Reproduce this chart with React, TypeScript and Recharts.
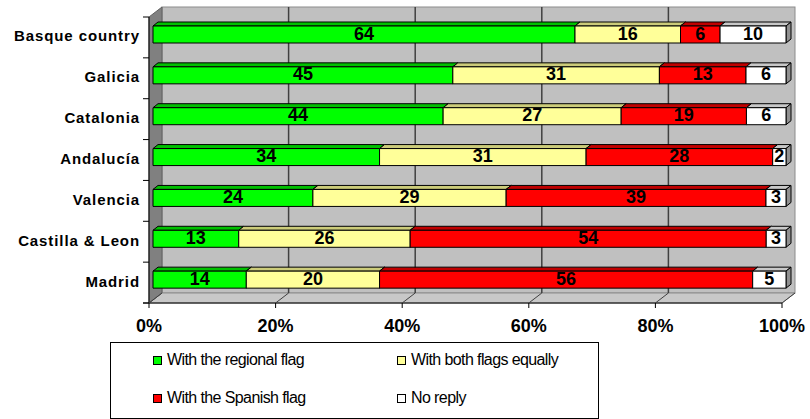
import React from 'react';
import { BarChart, Bar, XAxis, YAxis, CartesianGrid, LabelList } from 'recharts';

const REGIONS = ['Basque country', 'Galicia', 'Catalonia', 'Andalucía', 'Valencia', 'Castilla & Leon', 'Madrid'];
const REGIONAL = [64, 45, 44, 34, 24, 13, 14];
const BOTH = [16, 31, 27, 31, 29, 26, 20];
const SPANISH = [6, 13, 19, 28, 39, 54, 56];
const NO_REPLY = [10, 6, 6, 2, 3, 3, 5];
const X_TICKS = [0, 0.2, 0.4, 0.6, 0.8, 1];

interface SeriesDef {
  key: string;
  name: string;
  fill: string;
  top: string;
  side: string;
}

const SERIES: SeriesDef[] = [
  { key: 'regional', name: 'With the regional flag', fill: '#00FF00', top: '#00C000', side: '#009900' },
  { key: 'both', name: 'With both flags equally', fill: '#FFFF99', top: '#CCCC7A', side: '#99995C' },
  { key: 'spanish', name: 'With the Spanish flag', fill: '#FF0000', top: '#C00000', side: '#990000' },
  { key: 'noReply', name: 'No reply', fill: '#FFFFFF', top: '#C8C8C8', side: '#909090' },
];

const data = REGIONS.map((region, i) => ({
  region,
  regional: REGIONAL[i],
  both: BOTH[i],
  spanish: SPANISH[i],
  noReply: NO_REPLY[i],
}));

// chart frame
const W = 810;
const H = 419;
const PLOT_LEFT = 149;
const PLOT_RIGHT = 782;
const PLOT_TOP = 17;
const PLOT_BOTTOM = 303;
const X_AXIS_H = 30;
const BAND = (PLOT_BOTTOM - PLOT_TOP) / REGIONS.length;

// 3d depth of the walls, bar offset into the box, bar depth
const DX = 13;
const DY = 10;
const BX = 4;
const BY = -3;
const DW = 5;
const DH = 4;

const FONT = '"Liberation Sans", Arial, sans-serif';

function Box3D(props: any) {
  const { x, y, width, height, fill, top, side } = props;
  if (width == null || height == null) return null;
  const fx = x + BX;
  const fy = y + BY;
  return (
    <g stroke="#000" strokeWidth={1} strokeLinejoin="round">
      <polygon points={`${fx},${fy} ${fx + DW},${fy - DH} ${fx + width + DW},${fy - DH} ${fx + width},${fy}`} fill={top} />
      <polygon
        points={`${fx + width},${fy} ${fx + width + DW},${fy - DH} ${fx + width + DW},${fy + height - DH} ${fx + width},${fy + height}`}
        fill={side}
      />
      <rect x={fx} y={fy} width={width} height={height} fill={fill} />
    </g>
  );
}

function ValueLabel(props: any) {
  const vb = props.viewBox || props;
  const { x, y, width, height } = vb;
  return (
    <text
      x={x + width / 2 + BX}
      y={y + height / 2 + BY - 1}
      textAnchor="middle"
      dominantBaseline="central"
      fontFamily={FONT}
      fontWeight="bold"
      fontSize={18}
      fill="#000"
    >
      {props.value}
    </text>
  );
}

function RegionTick(props: any) {
  const { y, payload, index } = props;
  const top = y - BAND / 2;
  return (
    <g>
      <line x1={PLOT_LEFT - 6} x2={PLOT_LEFT} y1={top} y2={top} stroke="#000" />
      {index === REGIONS.length - 1 && (
        <line x1={PLOT_LEFT - 6} x2={PLOT_LEFT} y1={top + BAND} y2={top + BAND} stroke="#000" />
      )}
      <text
        x={140}
        y={y - 1.5}
        textAnchor="end"
        dominantBaseline="central"
        fontFamily={FONT}
        fontWeight="bold"
        fontSize={15}
        letterSpacing={0.9}
        fill="#000"
      >
        {payload.value}
      </text>
    </g>
  );
}

function PercentTick(props: any) {
  const { x, payload } = props;
  return (
    <g>
      <line x1={x} y1={PLOT_BOTTOM} x2={x + DX} y2={PLOT_BOTTOM - DY} stroke="#404040" />
      <line x1={x} y1={PLOT_BOTTOM} x2={x} y2={PLOT_BOTTOM + 5} stroke="#000" />
      <text
        x={x}
        y={PLOT_BOTTOM + 23}
        textAnchor="middle"
        dominantBaseline="central"
        fontFamily={FONT}
        fontWeight="bold"
        fontSize={18}
        fill="#000"
      >
        {`${Math.round(payload.value * 100)}%`}
      </text>
    </g>
  );
}

// walls and floor behind the bars
function Frame() {
  return (
    <svg width={W} height={H} style={{ position: 'absolute', left: 0, top: 0 }}>
      <rect
        x={PLOT_LEFT + DX}
        y={PLOT_TOP - DY}
        width={PLOT_RIGHT - PLOT_LEFT}
        height={PLOT_BOTTOM - PLOT_TOP}
        fill="#C0C0C0"
        stroke="#8C8C8C"
      />
      <polygon
        points={`${PLOT_LEFT},${PLOT_BOTTOM} ${PLOT_LEFT + DX},${PLOT_BOTTOM - DY} ${PLOT_RIGHT + DX},${PLOT_BOTTOM - DY} ${PLOT_RIGHT},${PLOT_BOTTOM}`}
        fill="#C8C8C8"
        stroke="#8C8C8C"
      />
      <polygon
        points={`${PLOT_LEFT},${PLOT_TOP} ${PLOT_LEFT + DX},${PLOT_TOP - DY} ${PLOT_LEFT + DX},${PLOT_BOTTOM - DY} ${PLOT_LEFT},${PLOT_BOTTOM}`}
        fill="#808080"
        stroke="#606060"
      />
      <line x1={PLOT_LEFT} y1={PLOT_TOP} x2={PLOT_LEFT} y2={PLOT_BOTTOM} stroke="#000" />
      <line x1={PLOT_LEFT - 6} y1={PLOT_BOTTOM} x2={PLOT_RIGHT} y2={PLOT_BOTTOM} stroke="#000" />
    </svg>
  );
}

function LegendBox() {
  const cols = [166, 410];
  const rows = [359, 397];
  return (
    <div
      style={{
        position: 'absolute',
        left: 110,
        top: 342,
        width: 487,
        height: 75,
        border: '1px solid #000',
        background: '#fff',
      }}
    >
      {SERIES.map((s, i) => {
        const left = cols[i % 2] - 110;
        const top = rows[Math.floor(i / 2)] - 342;
        return (
          <div
            key={s.key}
            style={{
              position: 'absolute',
              left: left - 14,
              top: top - 10,
              height: 20,
              display: 'flex',
              alignItems: 'center',
              whiteSpace: 'nowrap',
              fontFamily: FONT,
              fontSize: 16,
              letterSpacing: -0.6,
              color: '#000',
            }}
          >
            <span
              style={{
                display: 'inline-block',
                width: 7,
                height: 7,
                border: '1px solid #000',
                background: s.fill,
                marginRight: 5,
              }}
            />
            {s.name}
          </div>
        );
      })}
    </div>
  );
}

export default function App() {
  const plotW = PLOT_RIGHT - PLOT_LEFT;
  return (
    <div style={{ position: 'absolute', left: 0, top: 0, width: W, height: H, background: '#fff' }}>
      <Frame />
      <div style={{ position: 'absolute', left: 0, top: 0 }}>
        <BarChart
          width={W}
          height={H}
          data={data}
          layout="vertical"
          stackOffset="expand"
          barSize={17}
          margin={{ top: PLOT_TOP, right: W - PLOT_RIGHT, left: 0, bottom: H - PLOT_BOTTOM - X_AXIS_H }}
        >
          <CartesianGrid
            horizontal={false}
            stroke="#404040"
            strokeWidth={1.5}
            y={PLOT_TOP - DY}
            height={PLOT_BOTTOM - PLOT_TOP}
            verticalCoordinatesGenerator={({ xAxis }: any) =>
              X_TICKS.slice(1, -1).map((t) =>
                (xAxis && typeof xAxis.scale === 'function' ? xAxis.scale(t) : PLOT_LEFT + t * plotW) + DX
              )
            }
          />
          <XAxis
            type="number"
            domain={[0, 1]}
            ticks={X_TICKS}
            height={X_AXIS_H}
            axisLine={false}
            tickLine={false}
            tick={<PercentTick />}
            interval={0}
          />
          <YAxis
            type="category"
            dataKey="region"
            width={PLOT_LEFT}
            axisLine={false}
            tickLine={false}
            tick={<RegionTick />}
            interval={0}
          />
          {SERIES.map((s) => (
            <Bar
              key={s.key}
              dataKey={s.key}
              name={s.name}
              stackId="a"
              fill={s.fill}
              isAnimationActive={false}
              shape={(p: any) => <Box3D {...p} fill={s.fill} top={s.top} side={s.side} />}
            >
              <LabelList dataKey={s.key} content={<ValueLabel />} />
            </Bar>
          ))}
        </BarChart>
      </div>
      <LegendBox />
    </div>
  );
}
